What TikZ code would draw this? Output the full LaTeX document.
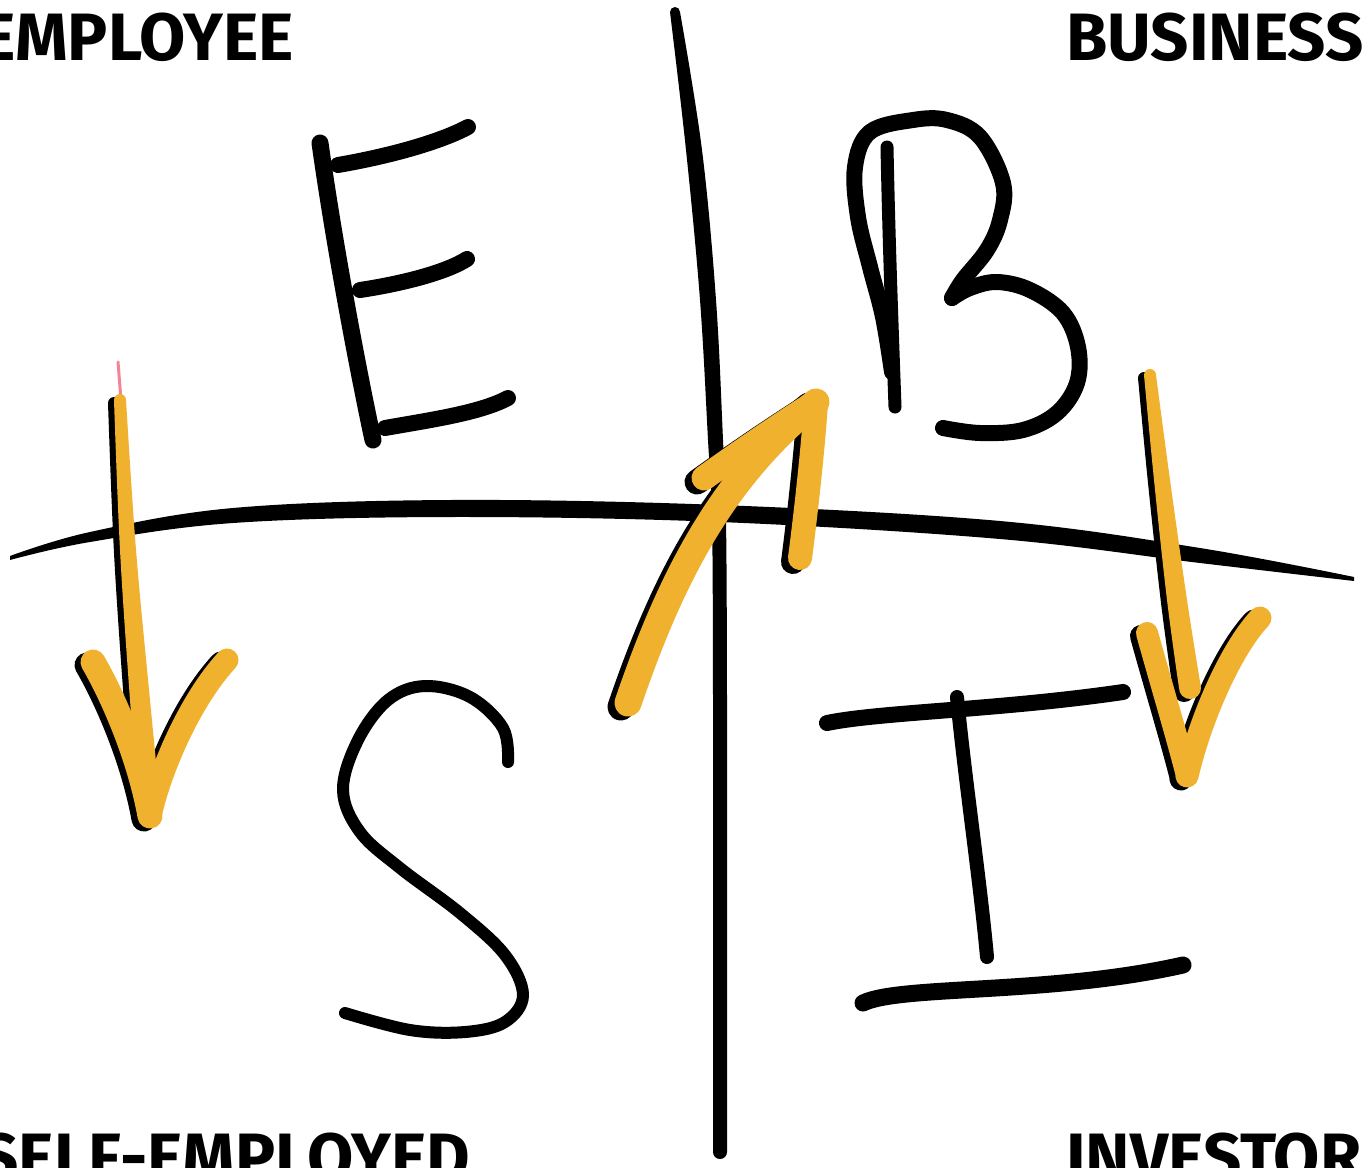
\documentclass[tikz,border=0pt]{standalone}
\usepackage{fontspec}
\setmainfont{Fira Sans}
\definecolor{arrowor}{RGB}{240,178,46}
\definecolor{tippink}{RGB}{245,130,150}
\newcommand\sketchLeftArrow[1]{%
  \fill[#1] plot[smooth,tension=0.6] coordinates {(114,400) (120,550) (130,700) (139,812)}
    -- plot[smooth,tension=0.6] coordinates {(161,812) (150,700) (136,550) (126,400)} -- cycle;
  \fill[#1] (120,400) circle (6); \fill[#1] (150,812) circle (11);
  \draw[#1,line width=25] (93,662) .. controls (115,700) and (140,760) .. (150,816);
  \draw[#1,line width=23] (227,660) .. controls (190,700) and (160,770) .. (150,816);}
\newcommand\sketchRightArrow[1]{%
  \fill[#1] plot[smooth,tension=0.6] coordinates {(1144,375) (1154,480) (1167,600) (1179,688)}
    -- plot[smooth,tension=0.6] coordinates {(1201,688) (1187,600) (1170,480) (1156,375)} -- cycle;
  \fill[#1] (1150,375) circle (6); \fill[#1] (1190,688) circle (11);
  \draw[#1,line width=22] (1147,633) .. controls (1160,680) and (1178,740) .. (1187,776);
  \draw[#1,line width=23] (1260,618) .. controls (1230,650) and (1200,720) .. (1187,776);}
\newcommand\sketchMidArrow[1]{%
  \draw[#1,line width=27] (628,703) .. controls (670,580) and (720,480) .. (816,402);
  \draw[#1,line width=25] (704,478) .. controls (740,452) and (780,425) .. (816,402);
  \draw[#1,line width=24] (816,402) .. controls (813,450) and (805,520) .. (800,558);}
\begin{document}
\begin{tikzpicture}[x=1pt,y=-1pt,line cap=round,line join=round,
  pen/.style={draw=black,line width=#1},
  label/.style={inner sep=0pt,font=\fontsize{67}{70}\selectfont\bfseries}]
\useasboundingbox (0,0) rectangle (1364,1167);
\clip (0,0) rectangle (1364,1167);
\fill[white] (0,0) rectangle (1364,1167);

% quadrant labels
\node[label,anchor=base east] (emp) at (294,60) {EMPLOYEE};
\node[label,anchor=base west] (bus) at (1066,60) {BUSINESS};
\node[label,anchor=base east] (self) at (470,1180) {SELF-EMPLOYED};
\node[label,anchor=base west] (inv) at (1066,1180) {INVESTOR};

% axes
\fill[black] plot[smooth,tension=0.6] coordinates {(670,12) (686,150) (700,300) (708,440) (712,520) (713,700) (713,1000) (713,1152)}
  -- plot[smooth,tension=0.6] coordinates {(727,1152) (727,1000) (727,700) (726,520) (723,440) (716,300) (702,150) (680,12)} -- cycle;
\fill[black] (720,1152) circle (7);
\fill[black] (675,12) circle (5);
\fill[black] plot[smooth,tension=0.6] coordinates {(10,556) (90,532) (233,508) (450,500) (720,505) (1000,521) (1200,548) (1354,577)}
  -- plot[smooth,tension=0.6] coordinates {(1354,581) (1200,563) (1000,539) (720,522) (450,517) (233,523) (90,542) (10,560)} -- cycle;

% E
\draw[pen=17] (320,143) .. controls (335,250) and (360,380) .. (373,440);
\draw[pen=16] (338,165) .. controls (390,156) and (440,142) .. (468,127);
\draw[pen=16] (360,290) .. controls (400,284) and (445,273) .. (467,259);
\draw[pen=16] (385,428) .. controls (430,420) and (480,413) .. (508,398);

% B
\draw[pen=13] (887,147) .. controls (889,250) and (893,350) .. (895,407);
\draw[pen=16] plot[smooth,tension=0.6] coordinates {(892,372) (883,317) (870,267) (858,217) (855,167) (870,132) (913,120) (947,120) (980,137) (1003,183) (1000,220) (987,250) (963,280) (952,298)};
\draw[pen=16] plot[smooth,tension=0.6] coordinates {(952,298) (970,288) (997,282) (1030,290) (1063,313) (1078,347) (1077,383) (1057,413) (1023,430) (980,433) (943,428)};

% S
\draw[pen=12] plot[smooth,tension=0.6] coordinates {(508,762) (503,728) (470,697) (425,686) (388,700) (358,740) (343,790) (360,832) (400,868) (460,913) (505,955) (523,995) (505,1022) (465,1032) (410,1030) (345,1013)};

% I
\draw[pen=16] (827,723) .. controls (880,712) and (1000,710) .. (1123,692);
\draw[pen=14] (957,697) .. controls (965,780) and (980,880) .. (987,957);
\draw[pen=17] (863,1003) .. controls (900,985) and (1050,995) .. (1183,965);

% arrows
\draw[tippink,line width=3] (118,362) -- (121,400);
\begin{scope}[shift={(-6,3)}]\sketchLeftArrow{black}\end{scope}
\sketchLeftArrow{arrowor}
\begin{scope}[shift={(-6,3)}]\sketchRightArrow{black}\end{scope}
\sketchRightArrow{arrowor}
\begin{scope}[shift={(-7,4)}]\sketchMidArrow{black}\end{scope}
\sketchMidArrow{arrowor}
\end{tikzpicture}
\end{document}
